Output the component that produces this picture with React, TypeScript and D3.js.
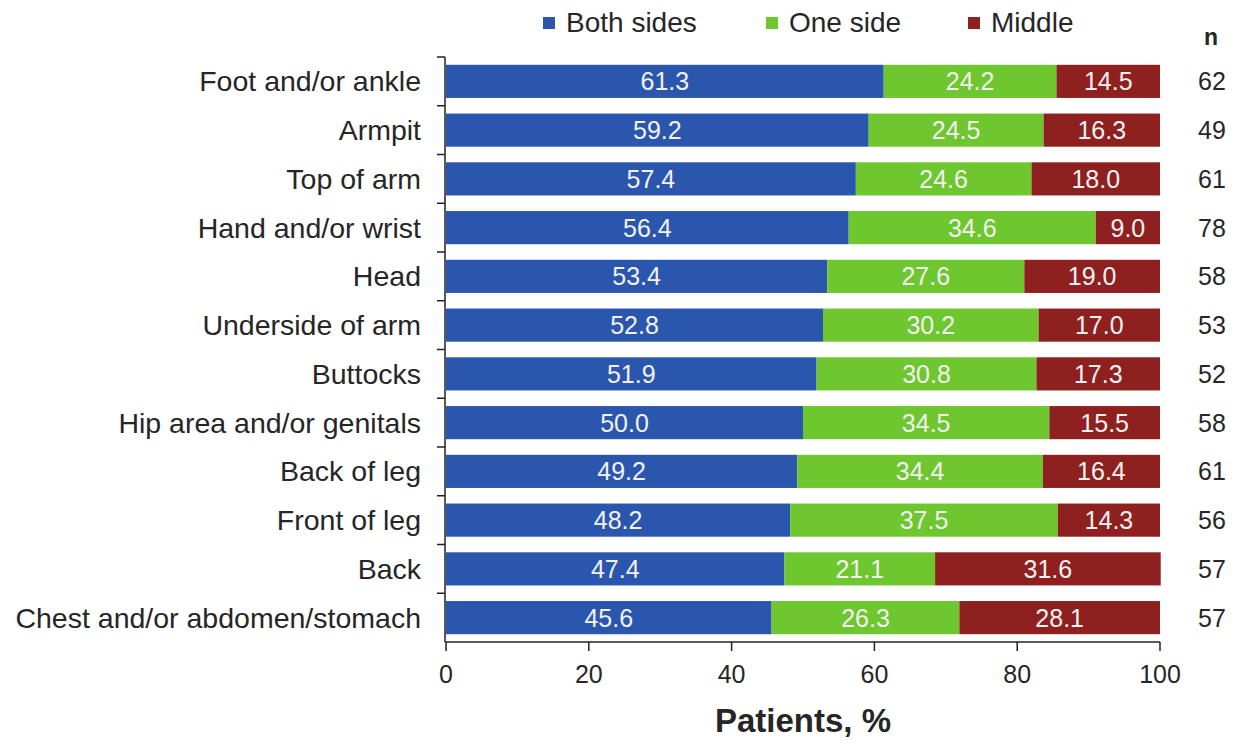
import * as d3 from "d3";

const categories = [
  "Foot and/or ankle",
  "Armpit",
  "Top of arm",
  "Hand and/or wrist",
  "Head",
  "Underside of arm",
  "Buttocks",
  "Hip area and/or genitals",
  "Back of leg",
  "Front of leg",
  "Back",
  "Chest and/or abdomen/stomach",
];
const bothSides = [61.3, 59.2, 57.4, 56.4, 53.4, 52.8, 51.9, 50.0, 49.2, 48.2, 47.4, 45.6];
const oneSide = [24.2, 24.5, 24.6, 34.6, 27.6, 30.2, 30.8, 34.5, 34.4, 37.5, 21.1, 26.3];
const middle = [14.5, 16.3, 18.0, 9.0, 19.0, 17.0, 17.3, 15.5, 16.4, 14.3, 31.6, 28.1];
const nValues = [62, 49, 61, 78, 58, 53, 52, 58, 61, 56, 57, 57];
const xTicks = [0, 20, 40, 60, 80, 100];

const seriesNames = ["Both sides", "One side", "Middle"];
const seriesColors = ["#2b56ad", "#6ec72e", "#8e2020"];

const W = 1239;
const H = 744;
const textColor = "#262626";
const font = "'Liberation Sans', Arial, sans-serif";

export default function App() {
  const x = d3.scaleLinear().domain([0, 100]).range([446, 1160]);
  const y = d3.scaleBand<string>().domain(categories).range([57, 642]).paddingInner(0.32).paddingOuter(0.16);

  const rows = categories.map((c, i) => ({
    cat: c,
    vals: [bothSides[i], oneSide[i], middle[i]],
    n: nValues[i],
  }));

  const legendX = [543, 766, 968];
  const boundaries = categories.map((c) => y(c)! - (y.step() - y.bandwidth()) / 2);

  return (
    <div style={{ position: "absolute", left: 0, top: 0 }}>
      <svg width={W} height={H} style={{ display: "block", fontFamily: font }}>
        <rect width={W} height={H} fill="#fff" />

        {/* legend */}
        {seriesNames.map((s, i) => (
          <g key={s}>
            <rect x={legendX[i]} y={17} width={12} height={12} fill={seriesColors[i]} />
            <text x={legendX[i] + 23} y={32} fontSize={28} fill={textColor}>
              {s}
            </text>
          </g>
        ))}
        <text x={1211} y={45} fontSize={23} fontWeight="bold" fill={textColor} textAnchor="middle">
          n
        </text>

        {/* bars */}
        {rows.map((r) => {
          let acc = 0;
          const y0 = y(r.cat)!;
          const bh = y.bandwidth();
          return (
            <g key={r.cat}>
              {r.vals.map((v, j) => {
                const x0 = x(acc);
                acc += v;
                const x1 = x(acc);
                return (
                  <g key={j}>
                    <rect x={x0} y={y0} width={x1 - x0} height={bh} fill={seriesColors[j]} />
                    <text
                      x={(x0 + x1) / 2}
                      y={y0 + bh / 2 + 9}
                      fontSize={25}
                      fill="#f2f2f2"
                      textAnchor="middle"
                    >
                      {v.toFixed(1)}
                    </text>
                  </g>
                );
              })}
              <text x={421} y={y0 + bh / 2 + 10} fontSize={28.5} fill={textColor} textAnchor="end">
                {r.cat}
              </text>
              <text x={1212} y={y0 + bh / 2 + 9} fontSize={25} fill={textColor} textAnchor="middle">
                {r.n}
              </text>
            </g>
          );
        })}

        {/* y axis */}
        <line x1={445} x2={445} y1={57} y2={642} stroke="#222" strokeWidth={1.5} />
        {boundaries.map((b, i) => (
          <line key={i} x1={437} x2={445} y1={b} y2={b} stroke="#222" strokeWidth={1.5} />
        ))}

        {/* x axis */}
        <line x1={445} x2={x(100)} y1={642} y2={642} stroke="#222" strokeWidth={1.5} />
        {xTicks.map((t) => (
          <g key={t}>
            <line x1={x(t)} x2={x(t)} y1={642} y2={651} stroke="#222" strokeWidth={1.5} />
            <text x={x(t)} y={683} fontSize={25} fill={textColor} textAnchor="middle">
              {t}
            </text>
          </g>
        ))}
        <text x={803} y={732} fontSize={33} fontWeight="bold" fill={textColor} textAnchor="middle">
          Patients, %
        </text>
      </svg>
    </div>
  );
}
